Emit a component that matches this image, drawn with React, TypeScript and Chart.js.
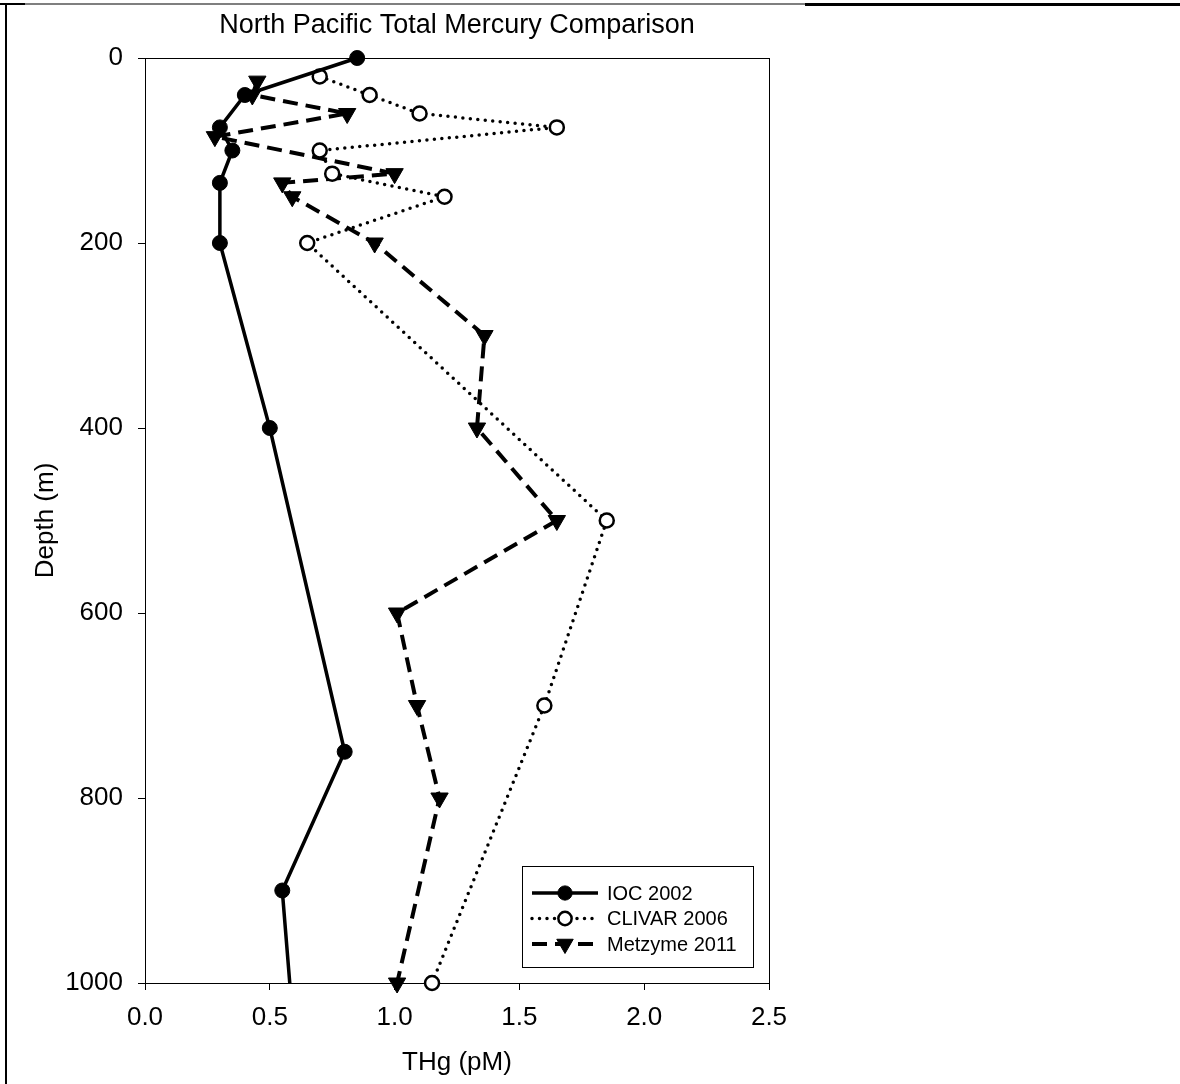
import React, { useEffect, useRef } from "react";
import { Chart, registerables } from "chart.js";

Chart.register(...registerables);

// ---------- data ----------
const chartTitle = "North Pacific Total Mercury Comparison";
const xTitle = "THg (pM)";
const yTitle = "Depth (m)";
const seriesNames = ["IOC 2002", "CLIVAR 2006", "Metzyme 2011"];

const iocDepth = [0, 40, 75, 100, 135, 200, 400, 750, 900, 1100];
const iocTHg = [0.85, 0.4, 0.3, 0.35, 0.3, 0.3, 0.5, 0.8, 0.55, 0.61];

const clivarDepth = [20, 40, 60, 75, 100, 125, 150, 200, 500, 700, 1000];
const clivarTHg = [0.7, 0.9, 1.1, 1.65, 0.7, 0.75, 1.2, 0.65, 1.85, 1.6, 1.15];

const metzymeDepth = [25, 40, 60, 85, 125, 135, 150, 200, 300, 400, 500, 600, 700, 800, 1000];
const metzymeTHg = [0.45, 0.43, 0.81, 0.28, 1.0, 0.55, 0.59, 0.92, 1.36, 1.33, 1.65, 1.01, 1.09, 1.18, 1.01];

const xTicks = [0, 0.5, 1.0, 1.5, 2.0, 2.5];
const yTicks = [0, 200, 400, 600, 800, 1000];

// ---------- styles ----------
const FONT = "'Liberation Sans', Arial, Helvetica, sans-serif";
const seriesStyles = [
  { dash: [] as number[], cap: "butt", width: 3.5, point: "circle", radius: 7.5, fill: "#000", pBorder: 1, rotation: 0 },
  { dash: [0, 7.5], cap: "round", width: 3.5, point: "circle", radius: 7, fill: "#fff", pBorder: 2.5, rotation: 0 },
  { dash: [15, 8], cap: "butt", width: 4, point: "triangle", radius: 10, fill: "#000", pBorder: 1, rotation: 180 },
];

const toPoints = (xs: number[], ys: number[]) => xs.map((x, i) => ({ x, y: ys[i] }));

const framePlugin = {
  id: "frame",
  beforeDraw(chart: any) {
    const { ctx, width, height } = chart;
    ctx.save();
    ctx.fillStyle = "#fff";
    ctx.fillRect(0, 0, width, height);
    ctx.fillStyle = "#000";
    ctx.fillRect(0, 3, 25, 2);
    ctx.fillRect(25, 3.5, 780, 1);
    ctx.fillRect(805, 3, width - 805, 3);
    ctx.fillRect(5, 3, 2, height - 3);
    ctx.restore();
  },
  beforeDatasetsDraw(chart: any) {
    const { ctx, chartArea: a } = chart;
    ctx.save();
    ctx.strokeStyle = "#000";
    ctx.lineWidth = 1;
    ctx.strokeRect(Math.round(a.left) + 0.5, Math.round(a.top) + 0.5, a.right - a.left, a.bottom - a.top);
    ctx.restore();
  },
};

function drawMarker(ctx: CanvasRenderingContext2D, s: any, x: number, y: number) {
  ctx.save();
  ctx.fillStyle = s.fill;
  ctx.strokeStyle = "#000";
  ctx.lineWidth = s.pBorder;
  ctx.setLineDash([]);
  ctx.beginPath();
  if (s.point === "circle") {
    ctx.arc(x, y, s.radius, 0, Math.PI * 2);
  } else {
    const r = s.radius;
    const rot = (s.rotation * Math.PI) / 180;
    for (let k = 0; k < 3; k++) {
      const ang = rot + (k * 2 * Math.PI) / 3;
      const px = x + Math.sin(ang) * r;
      const py = y - Math.cos(ang) * r;
      if (k === 0) ctx.moveTo(px, py);
      else ctx.lineTo(px, py);
    }
    ctx.closePath();
  }
  ctx.fill();
  ctx.stroke();
  ctx.restore();
}

const legendPlugin = {
  id: "boxLegend",
  afterDraw(chart: any) {
    const { ctx, chartArea: a } = chart;
    const w = 231;
    const h = 101;
    const right = a.right - 16;
    const bottom = a.bottom - 16;
    const left = right - w;
    const top = bottom - h;
    ctx.save();
    ctx.fillStyle = "#fff";
    ctx.fillRect(left, top, w, h);
    ctx.strokeStyle = "#000";
    ctx.lineWidth = 1;
    ctx.strokeRect(Math.round(left) + 0.5, Math.round(top) + 0.5, w, h);
    ctx.font = `20px ${FONT}`;
    ctx.textBaseline = "middle";
    ctx.textAlign = "left";
    seriesNames.forEach((name, i) => {
      const s = seriesStyles[i];
      const y = top + 27 + i * 25.5;
      ctx.save();
      ctx.strokeStyle = "#000";
      ctx.lineWidth = s.width;
      ctx.lineCap = s.cap as CanvasLineCap;
      ctx.setLineDash(s.dash);
      ctx.beginPath();
      ctx.moveTo(left + 10, y);
      ctx.lineTo(left + 76, y);
      ctx.stroke();
      ctx.restore();
      drawMarker(ctx, { ...s, radius: s.radius * 0.95 }, left + 43, y);
      ctx.fillStyle = "#000";
      ctx.fillText(name, left + 85, y + 1);
    });
    ctx.restore();
  },
};

export default function App() {
  const ref = useRef<HTMLCanvasElement | null>(null);

  useEffect(() => {
    if (!ref.current) return;
    Chart.defaults.color = "#000";
    Chart.defaults.font.family = FONT;

    const seriesData = [
      toPoints(iocTHg, iocDepth),
      toPoints(clivarTHg, clivarDepth),
      toPoints(metzymeTHg, metzymeDepth),
    ];

    const datasets = seriesData.map((data, i) => {
      const s = seriesStyles[i];
      return {
        label: seriesNames[i],
        data,
        borderColor: "#000",
        borderWidth: s.width,
        borderDash: s.dash,
        borderCapStyle: s.cap,
        borderJoinStyle: "round",
        pointStyle: s.point,
        pointRadius: s.radius,
        pointRotation: s.rotation,
        pointBackgroundColor: s.fill,
        pointBorderColor: "#000",
        pointBorderWidth: s.pBorder,
        fill: false,
        tension: 0,
        clip: i === 0 ? { left: false, top: false, right: false, bottom: 0 } : false,
      };
    });

    const chart = new Chart(ref.current, {
      type: "line",
      data: { datasets } as any,
      options: {
        animation: false,
        responsive: false,
        devicePixelRatio: 1,
        events: [],
        layout: { padding: { left: 0, right: 411, top: 0, bottom: 0 } },
        plugins: {
          legend: { display: false },
          tooltip: { enabled: false },
          title: {
            display: true,
            text: chartTitle,
            fullSize: false,
            color: "#000",
            font: { size: 27, weight: "normal", family: FONT, lineHeight: 1.2 },
            padding: { top: 9, bottom: 16.6 },
          },
        },
        scales: {
          x: {
            type: "linear",
            min: 0,
            max: 2.5,
            afterBuildTicks: (scale: any) => {
              scale.ticks = xTicks.map((v) => ({ value: v }));
            },
            afterFit: (scale: any) => {
              scale.height = 101;
            },
            ticks: {
              color: "#000",
              font: { size: 26, family: FONT },
              padding: 12,
              callback: (v: any) => Number(v).toFixed(1),
              maxRotation: 0,
            },
            grid: { display: true, drawOnChartArea: false, drawTicks: true, tickLength: 7, color: "#000", lineWidth: 1 },
            border: { display: true, color: "#000", width: 1 },
            title: {
              display: true,
              text: xTitle,
              color: "#000",
              font: { size: 26, family: FONT },
              padding: { top: 10, bottom: 5.4 },
            },
          },
          y: {
            type: "linear",
            reverse: true,
            min: 0,
            max: 1000,
            afterBuildTicks: (scale: any) => {
              scale.ticks = yTicks.map((v) => ({ value: v }));
            },
            afterFit: (scale: any) => {
              scale.width = 145;
            },
            ticks: {
              color: "#000",
              font: { size: 26, family: FONT },
              padding: 15,
              callback: (v: any) => String(v),
            },
            grid: { display: true, drawOnChartArea: false, drawTicks: true, tickLength: 7, color: "#000", lineWidth: 1 },
            border: { display: true, color: "#000", width: 1 },
            title: {
              display: true,
              text: yTitle,
              color: "#000",
              font: { size: 26, family: FONT },
              padding: { top: 30.4, bottom: 0 },
            },
          },
        },
      } as any,
      plugins: [framePlugin, legendPlugin],
    });

    return () => chart.destroy();
  }, []);

  return (
    <div style={{ position: "absolute", left: 0, top: 0, width: 1180, height: 1084, background: "#fff" }}>
      <canvas ref={ref} width={1180} height={1084} style={{ display: "block", width: 1180, height: 1084 }} />
    </div>
  );
}
